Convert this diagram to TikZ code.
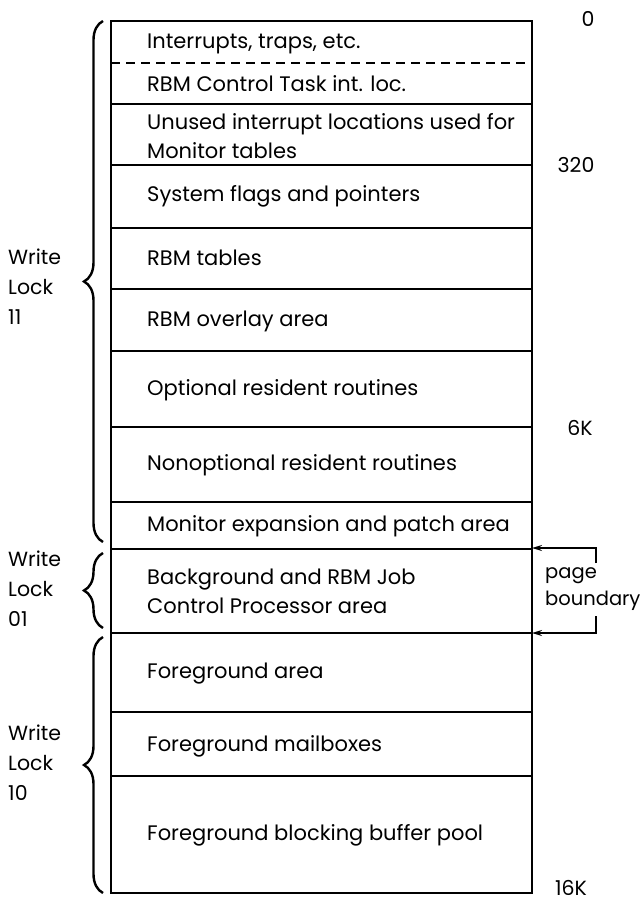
\documentclass[tikz,border=0pt]{standalone}
\usepackage{fontspec}
\setmainfont{Poppins}
\usetikzlibrary{decorations.pathreplacing,arrows.meta}

\begin{document}
\begin{tikzpicture}[x=1pt, y=-1pt,
        area/.style={anchor=west, inner sep=0pt, align=left, font=\fontsize{21}{29}\selectfont},
        lock/.style={anchor=west, inner sep=0pt, align=left, font=\fontsize{20.5}{30}\selectfont},
        addr/.style={inner sep=0pt, font=\fontsize{20.5}{24}\selectfont},
        rule/.style={line width=2pt},
        lockbrace/.style={line width=2.4pt, decorate, decoration={brace, amplitude=19pt}}]

        \useasboundingbox (0,0) rectangle (642,902);

        % memory map

        \draw[line width=2.4pt] (111,21) rectangle (532,893);

        \draw[rule, dashed, dash pattern=on 9pt off 6pt] (111,63) -- (532,63);
        \foreach \y in {104,165,228,289,351,427,502,549,633,712,776}
        {
            \draw[rule] (111,\y) -- (532,\y);
        }

        \node[area] (intr) at (147,44) {Interrupts, traps, etc.};
        \node[area] (ctl) at (147,84) {RBM Control Task int. loc.};
        \node[area] (unused) at (147,136) {Unused interrupt locations used for\\Monitor tables};
        \node[area] (flags) at (147,196) {System flags and pointers};
        \node[area] (rbmtab) at (147,258) {RBM tables};
        \node[area] (ovly) at (147,321) {RBM overlay area};
        \node[area] (opt) at (147,390) {Optional resident routines};
        \node[area] (nonopt) at (147,465) {Nonoptional resident routines};
        \node[area] (patch) at (147,526) {Monitor expansion and patch area};
        \node[area] (bkg) at (147,591) {Background and RBM Job\\Control Processor area};
        \node[area] (fgd) at (147,674) {Foreground area};
        \node[area] (mbox) at (147,746) {Foreground mailboxes};
        \node[area] (pool) at (147,835) {Foreground blocking buffer pool};

        % addresses

        \node[addr] (a0) at (588,19) {0};
        \node[addr] (a320) at (576,165) {320};
        \node[addr] (a6k) at (580,428) {6K};
        \node[addr] (a16k) at (571,888) {16K};

        % write locks

        \draw[lockbrace] (103,542) -- (103,21);
        \node[lock] (wl11) at (8,287) {Write\\Lock\\11};

        \draw[lockbrace] (103,628) -- (103,553);
        \node[lock] (wl01) at (8,589) {Write\\Lock\\01};

        \draw[lockbrace] (103,893) -- (103,637);
        \node[lock] (wl10) at (8,763) {Write\\Lock\\10};

        % page boundary

        \node[lock, font=\fontsize{19.5}{27}\selectfont] (pb) at (545,589) {page\\boundary};

        \coordinate (pbtop) at (596,563);
        \coordinate (pbbot) at (596,616);
        \coordinate (edgetop) at (532,548);
        \coordinate (edgebot) at (532,633);

        \draw[line width=1.4pt, -{Stealth[length=10pt, width=6pt]}] (pbtop) |- (edgetop);
        \draw[line width=1.4pt, -{Stealth[length=10pt, width=6pt]}] (pbbot) |- (edgebot);

\end{tikzpicture}
\end{document}
